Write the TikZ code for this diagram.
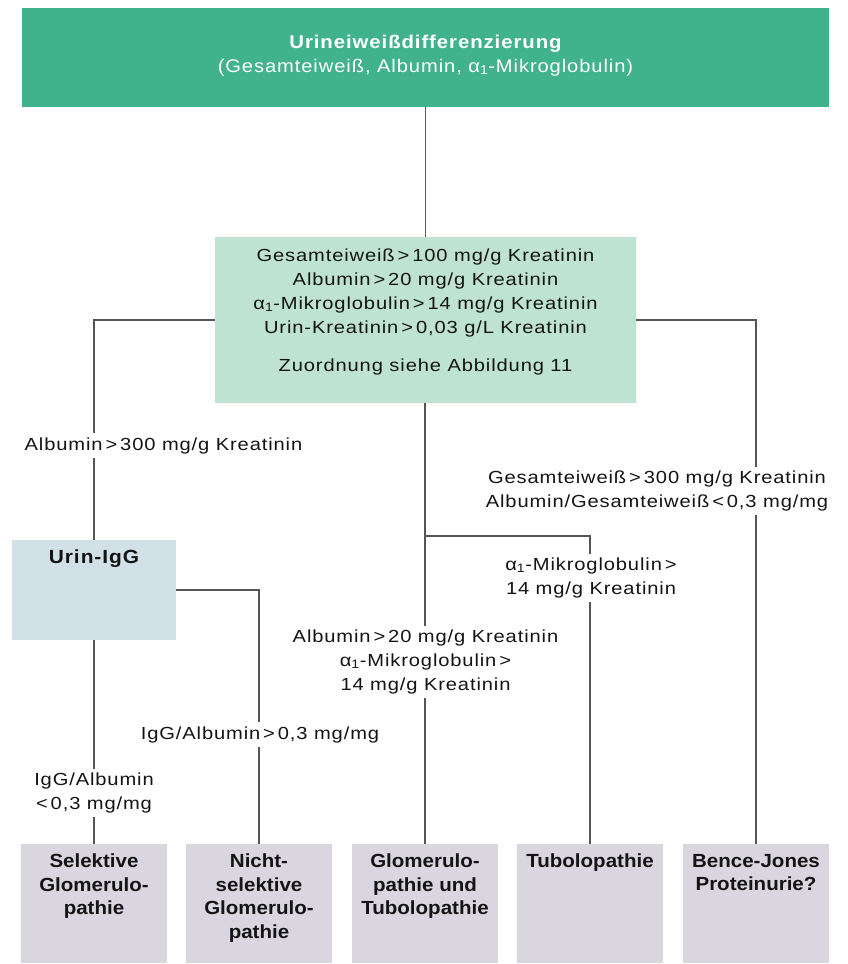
\documentclass[tikz,border=0pt]{standalone}
\usepackage{fontspec}
\setmainfont[FakeStretch=1.1,LetterSpace=5]{Liberation Sans}
\newfontfamily\labfont[FakeStretch=1.15,LetterSpace=5]{Liberation Sans}
\newfontfamily\boxfont[FakeStretch=1.08]{Liberation Sans}
\definecolor{topgreen}{RGB}{65,179,140}
\definecolor{midgreen}{RGB}{191,227,210}
\definecolor{iggblue}{RGB}{210,224,232}
\definecolor{botgray}{RGB}{217,214,224}
\definecolor{linegray}{RGB}{85,85,85}
\definecolor{txt}{RGB}{20,20,20}
\begin{document}
\begin{tikzpicture}[x=1pt,y=-1pt]
\tikzset{
  conn/.style={draw=linegray, line width=1.3pt},
  lab/.style={fill=white, inner xsep=3pt, inner ysep=4pt, align=center, text=txt,
    font=\labfont\fontsize{17.5}{24}\selectfont},
  labtext/.style={inner sep=0pt, align=center, text=txt, font=\labfont\fontsize{17.5}{24}\selectfont},
  botbox/.style={fill=botgray, minimum width=146pt, minimum height=119pt, inner sep=0pt},
  bottext/.style={inner sep=0pt, align=center, text=txt, anchor=north,
    font=\boxfont\bfseries\fontsize{19}{23.5}\selectfont},
}
\fill[white] (0,0) rectangle (847,964);
\useasboundingbox (0,0) rectangle (847,964);

% boxes
\node[fill=topgreen, minimum width=807pt, minimum height=99pt, inner sep=0pt] (top) at (425.5,57.5) {};
\node[anchor=north, inner sep=0pt, align=center, text=white, font=\fontsize{18.3}{24}\selectfont] (toptext) at (425.5,34.5)
  {{\bfseries\fontsize{18.5}{24}\selectfont Urineiweißdifferenzierung}\\(Gesamteiweiß, Albumin, α\textsubscript{1}-Mikroglobulin)};

\node[fill=midgreen, minimum width=421pt, minimum height=166pt, inner sep=0pt] (mid) at (425.5,320) {};
\node[labtext, anchor=north] (midtext) at (425.5,248.5)
  {Gesamteiweiß\,>\,100 mg/g Kreatinin\\Albumin\,>\,20 mg/g Kreatinin\\
   α\textsubscript{1}-Mikroglobulin\,>\,14 mg/g Kreatinin\\Urin-Kreatinin\,>\,0,03 g/L Kreatinin\\[14pt]
   Zuordnung siehe Abbildung 11};

\node[fill=iggblue, minimum width=164pt, minimum height=100pt, inner sep=0pt] (igg) at (94,590) {};
\node[inner sep=0pt, text=txt, font=\bfseries\fontsize{19}{23.5}\selectfont, anchor=base] (iggtext) at (94,563) {Urin-IgG};

\node[botbox] (sel) at (94,903.5) {};
\node[botbox] (nsel) at (259,903.5) {};
\node[botbox] (glt) at (425,903.5) {};
\node[botbox] (tub) at (590,903.5) {};
\node[botbox] (bj) at (756,903.5) {};

\node[bottext] (seltext) at (94,854) {Selektive\\Glomerulo-\\pathie};
\node[bottext] (nseltext) at (259,854) {Nicht-\\selektive\\Glomerulo-\\pathie};
\node[bottext] (glttext) at (425,854) {Glomerulo-\\pathie und\\Tubolopathie};
\node[bottext] (tubtext) at (590,854) {Tubolopathie};
\node[bottext] (bjtext) at (756,854) {Bence-Jones\\Proteinurie?};

% connectors
\coordinate (branch) at (425,536);
\draw[conn] (top.south) -- (mid.north);
\draw[conn] (mid.west) -| (igg.north);
\draw[conn] (mid.east) -| (bj.north);
\draw[conn] (mid.south -| glt.north) -- (glt.north);
\draw[conn] (branch) -| (tub.north);
\draw[conn] (igg.east) -| (nsel.north);
\draw[conn] (igg.south) -- (sel.north);

% labels
\node[lab, anchor=base] (l300) at (163.5,450) {Albumin\,>\,300 mg/g Kreatinin};
\node[lab, anchor=north] (lbj) at (657,466.5) {Gesamteiweiß\,>\,300 mg/g Kreatinin\\Albumin/Gesamteiweiß\,<\,0,3 mg/mg};
\node[lab, anchor=north] (ltub) at (591,553.5) {α\textsubscript{1}-Mikroglobulin\,>\\14 mg/g Kreatinin};
\node[lab, anchor=north] (lglt) at (425.5,625.5) {Albumin\,>\,20 mg/g Kreatinin\\α\textsubscript{1}-Mikroglobulin\,>\\14 mg/g Kreatinin};
\node[lab, anchor=base] (lnsel) at (260,739) {IgG/Albumin\,>\,0,3 mg/mg};
\node[lab, anchor=north] (lsel) at (94,768.5) {IgG/Albumin\\<\,0,3 mg/mg};
\end{tikzpicture}
\end{document}
